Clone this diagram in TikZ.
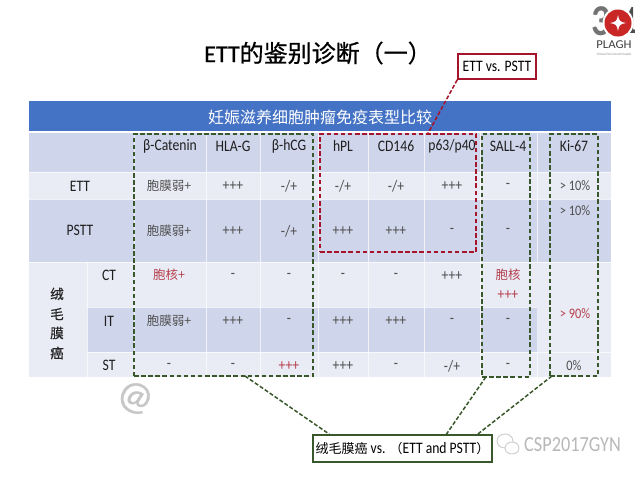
\documentclass[tikz,border=0pt]{standalone}
\usepackage{fontspec}
\setmainfont[FakeStretch=0.85]{Carlito}
\newfontfamily\cjk{Noto Sans CJK SC}
\newfontfamily\cjkb[FakeBold=0.7]{Noto Sans CJK SC}
\newfontfamily\plainb[FakeBold=0.7]{Carlito}
\usetikzlibrary{calc}
\definecolor{hdrblue}{HTML}{4472C4}
\definecolor{banddark}{HTML}{CFD5EA}
\definecolor{bandlight}{HTML}{E9EBF5}
\definecolor{boxgreen}{HTML}{38572A}
\definecolor{boxred}{HTML}{A5142A}
\definecolor{valgray}{HTML}{505050}
\definecolor{valred}{HTML}{B5404C}
\newcommand{\fs}[1]{\fontsize{#1}{#1}\selectfont}
\tikzset{
  band/.style={fill=#1,draw=none},
  gridline/.style={white,line width=0.6pt,opacity=0.7},
  head/.style={font=\fs{16},text=black!88,inner sep=0pt},
  rowlabel/.style={font=\fs{16},text=black!88,inner sep=0pt},
  val/.style={font=\fs{16},text=valgray,inner sep=0pt},
  pct/.style={font=\fs{14.5},text=valgray,inner sep=0pt},
  cjkval/.style={font=\fs{12.5}\cjk,text=valgray,inner sep=0pt},
  redval/.style={font=\fs{16},text=valred,inner sep=0pt},
  redpct/.style={font=\fs{14.5},text=valred,inner sep=0pt},
  redcjk/.style={font=\fs{12.5}\cjk,text=valred,inner sep=0pt},
  dashgreen/.style={draw=boxgreen,line width=1.9pt,dash pattern=on 4.5pt off 2.6pt},
  dashred/.style={draw=boxred,line width=1.9pt,dash pattern=on 4.5pt off 2.6pt},
  linkgreen/.style={draw=boxgreen,line width=1.5pt,dash pattern=on 4pt off 2pt},
  linkred/.style={draw=boxred,line width=1.5pt,dash pattern=on 4pt off 2pt},
  region/.style={anchor=north west,inner sep=0pt,outer sep=0pt,fill=none},
  callout/.style={fill=white,line width=1.6pt,inner sep=0pt,text=black,font=\fs{16}},
  chorio/.style={font=\fs{13.5}\cjkb,text=black!85,inner sep=0pt},
}
\begin{document}
\begin{tikzpicture}[x=1pt,y=-1pt]
\useasboundingbox (0,0) rectangle (640,480);
\fill[white] (0,0) rectangle (640,480);
% watermark
\node[inner sep=0pt,rotate=-18,text=black!22,font=\fs{40}\plainb] (wm) at (135,398) {@};
% table bands
\fill[hdrblue] (29,101) rectangle (611,131);
\fill[band=banddark] (29,133) rectangle (611,172);
\fill[band=bandlight] (29,172) rectangle (611,199);
\fill[band=banddark] (29,199) rectangle (611,262);
\fill[band=bandlight] (29,262) rectangle (611,307);
\fill[band=banddark] (87,307) rectangle (537,352);
\fill[band=bandlight] (29,307) rectangle (87,352);
\fill[band=bandlight] (537,307) rectangle (611,352);
\fill[band=bandlight] (29,352) rectangle (611,377);
% grid
\foreach \x in {134,206,260,318,368,424,480,537}
  \draw[gridline] (\x,133) -- (\x,377);
\draw[gridline] (87,262) -- (87,377);
\foreach \y in {172,199,262,307,352}
  \draw[gridline] (29,\y) -- (611,\y);
\fill[bandlight] (29,262.5) rectangle (86.7,377);
\fill[bandlight] (537.4,262.5) rectangle (611,351.7);
% title
\node[inner sep=0pt,text=black,font=\fs{24}] (title) at (318,53) {{\plainb ETT}{\cjkb 的鉴别诊断（一）}};
\node[inner sep=0pt,text=white,font=\fs{16}\cjk] (tabletitle) at (320,117) {妊娠滋养细胞肿瘤免疫表型比较};
% headers
\node[head] (h1) at (170,146) {β-Catenin};
\node[head] (h2) at (233,146) {HLA-G};
\node[head] (h3) at (289,146) {β-hCG};
\node[head] (h4) at (343,146) {hPL};
\node[head] (h5) at (396,146) {CD146};
\node[head] (h6) at (452,146) {p63/p40};
\node[head] (h7) at (508,146) {SALL-4};
\node[head] (h8) at (574,146) {Ki-67};
% row labels
\node[rowlabel] (ett) at (80,186) {ETT};
\node[rowlabel] (pstt) at (80,230) {PSTT};
\node[rowlabel] (ct) at (109,275) {CT};
\node[rowlabel] (it) at (109,321) {IT};
\node[rowlabel] (st) at (109,365) {ST};
\node[chorio] (chorio1) at (57,294) {绒};
\node[chorio] (chorio2) at (57,314) {毛};
\node[chorio] (chorio3) at (57,333) {膜};
\node[chorio] (chorio4) at (57,353) {癌};
% ETT row
\node[cjkval] (a1) at (169,186) {胞膜弱+};
\node[val] (a2) at (233,186) {+++};
\node[val] (a3) at (289,186) {-/+};
\node[val] (a4) at (343,186) {-/+};
\node[val] (a5) at (396,186) {-/+};
\node[val] (a6) at (452,186) {+++};
\node[val] (a7) at (508,186) {-};
\node[pct] (a8) at (575,186) {> 10\%};
% PSTT row
\node[cjkval] (b1) at (169,231) {胞膜弱+};
\node[val] (b2) at (233,231) {+++};
\node[val] (b3) at (289,231) {-/+};
\node[val] (b4) at (343,231) {+++};
\node[val] (b5) at (396,231) {+++};
\node[val] (b6) at (452,231) {-};
\node[val] (b7) at (508,231) {-};
\node[pct] (b8) at (575,211) {> 10\%};
% CT row
\node[redcjk] (c1) at (169,275) {胞核+};
\node[val] (c2) at (233,276) {-};
\node[val] (c3) at (289,276) {-};
\node[val] (c4) at (343,276) {-};
\node[val] (c5) at (396,276) {-};
\node[val] (c6) at (452,276) {+++};
\node[redcjk] (c7) at (508,275) {胞核};
\node[redval] (c7b) at (508,295) {+++};
\node[redpct] (c8) at (575,314) {> 90\%};
% IT row
\node[cjkval] (d1) at (169,321) {胞膜弱+};
\node[val] (d2) at (233,321) {+++};
\node[val] (d3) at (289,321) {-};
\node[val] (d4) at (343,321) {+++};
\node[val] (d5) at (396,321) {+++};
\node[val] (d6) at (452,321) {-};
\node[val] (d7) at (508,321) {-};
% ST row
\node[val] (e1) at (169,366) {-};
\node[val] (e2) at (233,366) {-};
\node[redval] (e3) at (289,366) {+++};
\node[val] (e4) at (343,366) {+++};
\node[val] (e5) at (396,366) {-};
\node[val] (e6) at (452,366) {-/+};
\node[val] (e7) at (508,366) {-};
\node[pct] (e8) at (574,366) {0\%};
% dashed regions
\node[region,dashgreen,minimum width=179pt,minimum height=242pt] (gA) at (134,134) {};
\node[region,dashgreen,minimum width=48pt,minimum height=243pt] (gB) at (482,134) {};
\node[region,dashgreen,minimum width=48pt,minimum height=242pt] (gC) at (550,134) {};
\node[region,dashred,minimum width=156pt,minimum height=118pt] (rA) at (320,134) {};
% callouts
\node[callout,draw=boxred,minimum width=78pt,minimum height=25pt] (cr) at (497,66.5) {ETT vs. PSTT};
\node[callout,draw=boxgreen,minimum width=179pt,minimum height=27pt] (cg) at (402.5,448.5) {{\fs{13}\cjk 绒毛膜癌} vs. {\fs{13}\cjk （}ETT and PSTT{\fs{13}\cjk ）}\hspace{8pt}};
% connectors
\draw[linkred] (cr.south west) -- ($(rA.north west)!0.69!(rA.north east)$);
\draw[linkgreen] ($(gA.south west)!0.62!(gA.south east)$) -- ($(cg.north west)!0.095!(cg.north east)$);
\draw[linkgreen] ($(gB.south west)!0.08!(gB.south east)$) -- ($(cg.north west)!0.743!(cg.north east)$);
\draw[linkgreen] ($(gC.south west)!0.04!(gC.south east)$) -- ($(cg.north west)!0.916!(cg.north east)$);
% wechat watermark
\draw[black!20,line width=0.9pt] (505,441) ellipse (8pt and 7pt);
\draw[black!20,line width=0.9pt,fill=white] (512,448) ellipse (7pt and 6pt);
\node[inner sep=0pt,anchor=west,text=black!28,font=\fs{21.5}] (wechat) at (524,445) {CSP2017GYN};
% logo
\node[inner sep=0pt,text=black!55,font=\fs{44}\bfseries] (logo3) at (601,21) {3};
\node[inner sep=0pt,text=black!70,font=\fs{40}\bfseries,xscale=0.5] (logo1) at (632,21) {1};
\fill[white] (618,23) circle (15.5pt);
\fill[red!75!black!85] (618,23) circle (13.5pt);
\fill[white] (618,15) .. controls (619,21) and (620,22) .. (626,23) .. controls (620,24) and (619,25) .. (618,31) .. controls (617,25) and (616,24) .. (610,23) .. controls (616,22) and (617,21) .. (618,15) -- cycle;
\node[inner sep=0pt,text=black!75,font=\fs{12},xscale=1.25] (logotext) at (614,45) {PLAGH};
\node[inner sep=0pt,text=black!45,font=\fs{3.4}] (logosub) at (614,54.5) {Chinese PLA General Hospital};
\end{tikzpicture}
\end{document}
